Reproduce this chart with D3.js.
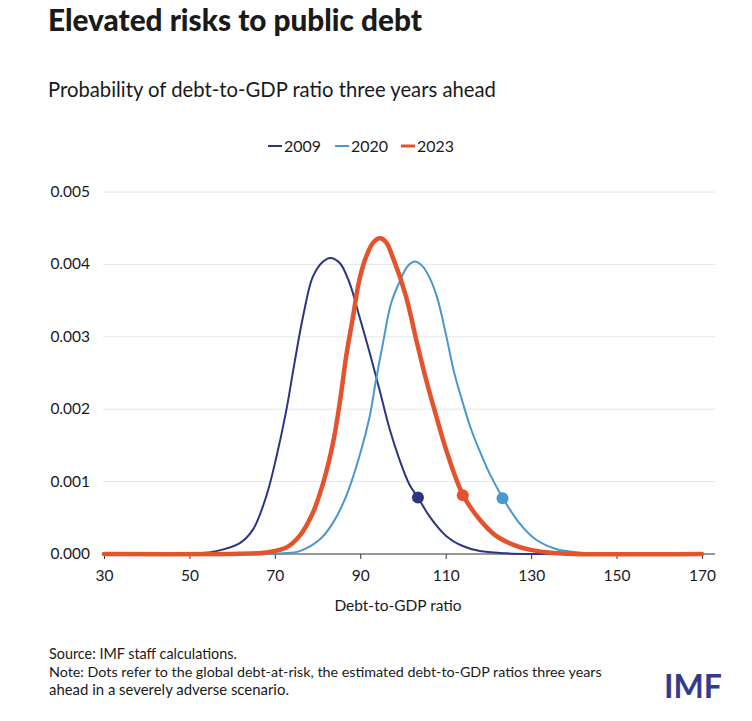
<!DOCTYPE html>
<html>
<head>
<meta charset="utf-8">
<script src="https://cdn.jsdelivr.net/npm/d3@7"></script>
<style>
  html, body { margin: 0; padding: 0; background: #fff; }
  svg { display: block; }
  text { font-family: Lato, "Open Sans", sans-serif; fill: #1a1a1a; }
</style>
</head>
<body>
<svg id="chart" width="752" height="721"></svg>
<script>
// ---------- data ----------
const seriesNames = ["2009", "2020", "2023"];
const seriesColors = ["#2d3583", "#4a97d0", "#e4532b"];
const seriesWidths = [2, 2, 4.5];

const x2009 = [30, 45, 52, 56.3, 61.8, 64.9, 68, 70.4, 72.7, 74.6, 76.6, 78.9, 81.3, 83, 85.2, 87.5, 89.8, 92.2, 94.5, 96.8, 99.2, 101.5, 103.5, 106.2, 110.1, 114, 118, 124, 130, 170];
const y2009 = [0, 0, 0.00001, 0.00004, 0.00015, 0.00034, 0.0008, 0.00135, 0.00199, 0.00264, 0.00328, 0.00383, 0.00404, 0.00409, 0.00402, 0.00374, 0.00328, 0.00278, 0.00227, 0.00174, 0.0013, 0.00096, 0.00078, 0.00052, 0.00025, 0.00011, 0.00004, 0.00001, 0, 0];

const x2020 = [30, 68, 72, 75.8, 80.5, 83.6, 86.7, 89.8, 92.2, 93.7, 95.3, 97.2, 99.2, 101, 102.7, 104.5, 106.2, 108.1, 110.1, 112, 114, 115.9, 117.9, 120.2, 123.3, 127.2, 131.1, 135.8, 141.2, 148, 170];
const y2020 = [0, 0, 0.00001, 0.00004, 0.0002, 0.00043, 0.0008, 0.00135, 0.0019, 0.00241, 0.00291, 0.00346, 0.00376, 0.00397, 0.00404, 0.00398, 0.00382, 0.00352, 0.00302, 0.0025, 0.00209, 0.00173, 0.00143, 0.00112, 0.00078, 0.00043, 0.0002, 0.00007, 0.00002, 0, 0];

const x2023 = [30, 60, 66, 68, 72.7, 75.8, 78.9, 81.3, 83.6, 85.2, 86.7, 88.3, 89.8, 91.4, 93, 94.6, 96, 97.6, 100.7, 103.1, 105.4, 107.8, 110.1, 114, 117.9, 121.8, 125.7, 129.6, 134, 140, 170];
const y2023 = [0, 0, 0.00001, 0.00002, 0.00009, 0.00025, 0.00057, 0.00098, 0.00153, 0.00209, 0.00273, 0.00328, 0.00379, 0.00411, 0.0043, 0.00436, 0.00431, 0.0041, 0.00356, 0.00296, 0.00241, 0.0019, 0.00144, 0.00082, 0.00048, 0.00025, 0.00013, 0.00006, 0.00002, 0, 0];

// debt-at-risk dots
const dotX = [103.5, 123.3, 114.0];
const dotY = [0.00078, 0.00077, 0.00081];

const xTicks = [30, 50, 70, 90, 110, 130, 150, 170];
const yTicks = [0, 0.001, 0.002, 0.003, 0.004, 0.005];

// ---------- layout ----------
const svg = d3.select("#chart");
const xScale = d3.scaleLinear().domain([30, 170]).range([104, 702]);
const yScale = d3.scaleLinear().domain([0, 0.005]).range([554, 192]);
const gridLeft = 103, gridRight = 715;

function fit(sel, w) {
  const node = sel.node();
  const fs = parseFloat(sel.attr("font-size"));
  const len = node.getComputedTextLength();
  if (len > 0) sel.attr("font-size", (fs * w / len).toFixed(2));
  return sel;
}

// titles
fit(svg.append("text").attr("x", 48).attr("y", 31).attr("font-size", 25)
  .attr("font-weight", 900).text("Elevated risks to public debt"), 374);
fit(svg.append("text").attr("x", 48).attr("y", 97).attr("font-size", 19)
  .text("Probability of debt-to-GDP ratio three years ahead"), 448);

// legend
const legendX = [268, 335, 401];
seriesNames.forEach((n, i) => {
  svg.append("line").attr("x1", legendX[i]).attr("x2", legendX[i] + 14)
    .attr("y1", 146).attr("y2", 146)
    .attr("stroke", seriesColors[i]).attr("stroke-width", i === 2 ? 3 : 2);
  fit(svg.append("text").attr("x", legendX[i] + 16).attr("y", 152)
    .attr("font-size", 16).text(n), 37);
});

// gridlines
svg.append("g").selectAll("line").data(yTicks.slice(1)).join("line")
  .attr("x1", gridLeft).attr("x2", gridRight)
  .attr("y1", d => yScale(d)).attr("y2", d => yScale(d))
  .attr("stroke", "#e6e6e6").attr("stroke-width", 1);

// y labels
svg.append("g").selectAll("text").data(yTicks).join("text")
  .attr("x", 90).attr("y", d => yScale(d) + 5)
  .attr("text-anchor", "end").attr("font-size", 15.5)
  .text(d => d3.format(".3f")(d));

// x axis
const xAxis = d3.axisBottom(xScale).tickValues(xTicks).tickSize(5).tickPadding(11)
  .tickFormat(d3.format("d"));
const gx = svg.append("g").attr("transform", `translate(0,${yScale(0)})`).call(xAxis);
gx.select(".domain").remove();
gx.selectAll(".tick line").attr("stroke", "#333");
gx.selectAll(".tick text").attr("font-size", 15.5).attr("fill", "#1a1a1a")
  .attr("font-family", "Lato, 'Open Sans', sans-serif");
svg.append("line").attr("x1", gridLeft).attr("x2", gridRight)
  .attr("y1", yScale(0)).attr("y2", yScale(0)).attr("stroke", "#333").attr("stroke-width", 1);

svg.append("text").attr("x", 398).attr("y", 611).attr("text-anchor", "middle")
  .attr("font-size", 15.5).text("Debt-to-GDP ratio");

// lines
const xs = [x2009, x2020, x2023];
const ys = [y2009, y2020, y2023];
const line = d3.line().x(d => xScale(d[0])).y(d => Math.min(yScale(0), yScale(d[1])))
  .curve(d3.curveCatmullRom.alpha(0.5));
[0, 1, 2].forEach(i => {
  const pts = xs[i].map((v, k) => [v, ys[i][k]]);
  svg.append("path").datum(pts).attr("d", line)
    .attr("fill", "none").attr("stroke", seriesColors[i])
    .attr("stroke-width", seriesWidths[i]).attr("stroke-linejoin", "round")
    .attr("stroke-linecap", "round");
});

// dots
svg.append("g").selectAll("circle").data(dotX).join("circle")
  .attr("cx", d => xScale(d)).attr("cy", (d, i) => yScale(dotY[i]))
  .attr("r", 6).attr("fill", (d, i) => seriesColors[i]);

// footer
const notes = [
  "Source: IMF staff calculations.",
  "Note: Dots refer to the global debt-at-risk, the estimated debt-to-GDP ratios three years",
  "ahead in a severely adverse scenario."
];
const noteW = [188, 553, 240];
notes.forEach((t, i) => {
  fit(svg.append("text").attr("x", 49).attr("y", 659 + i * 18)
    .attr("font-size", 13.5).text(t), noteW[i]);
});

// logo
fit(svg.append("text").attr("x", 664).attr("y", 698)
  .attr("font-family", "'Liberation Sans', Arial, sans-serif")
  .attr("font-weight", 700).attr("font-size", 34).style("fill", "#343b8c")
  .text("IMF"), 58);
</script>
</body>
</html>
